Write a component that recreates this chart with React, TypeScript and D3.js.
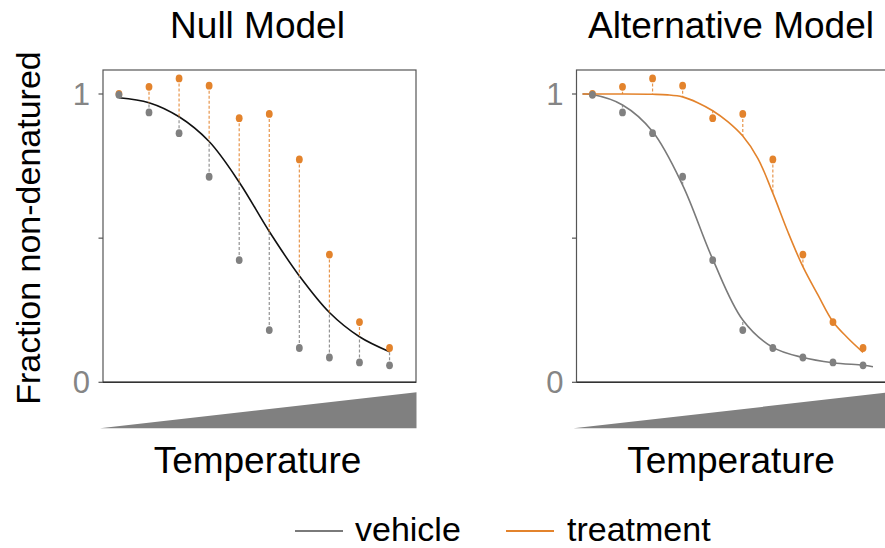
import React from "react";
import * as d3 from "d3";

// ---- data ----
const tempSteps = [1, 2, 3, 4, 5, 6, 7, 8, 9, 10];
const vehicle = [0.997, 0.936, 0.864, 0.713, 0.424, 0.181, 0.119, 0.086, 0.069, 0.059];
const treatment = [1.0, 1.025, 1.054, 1.029, 0.916, 0.931, 0.773, 0.443, 0.209, 0.119];

// fitted curves
const nullFitX = [1, 2, 3, 4, 5, 6, 7, 8, 9, 10];
const nullFitY = [0.987, 0.97, 0.921, 0.835, 0.694, 0.523, 0.369, 0.242, 0.158, 0.106];
const altVehX = [0.67, 1, 2, 3, 4, 5, 6, 7, 8, 9, 10, 10.33];
const altVehY = [1.0, 0.998, 0.962, 0.87, 0.684, 0.427, 0.216, 0.121, 0.086, 0.068, 0.059, 0.054];
const altTrtX = [0.67, 1, 2, 3, 3.5, 4, 4.5, 5, 5.5, 6, 6.5, 7, 7.5, 8, 8.5, 9, 9.5, 10];
const altTrtY = [1.0, 1.0, 1.0, 0.999, 0.997, 0.99, 0.97, 0.942, 0.904, 0.854, 0.777, 0.656, 0.522, 0.401, 0.303, 0.21, 0.153, 0.104];

const yTicks = [0, 0.5, 1];
const yTickLabels = ["0", "", "1"];
const panelTitles = ["Null Model", "Alternative Model"];
const legendLabels = ["vehicle", "treatment"];

const GRAY = "#808080";
const GRAY_LINE = "#7a7a7a";
const ORANGE = "#E3832C";
const FONT = "'Liberation Sans', Arial, Helvetica, sans-serif";

const W = 885;
const H = 548;
const panelLefts = [103, 576.5];
const panelW = 313;
const top = 70;
const bottom = 382.3;

function Panel({ left, title, mode }: { left: number; title: string; mode: "null" | "alt" }) {
  const x = d3.scaleLinear().domain([0.47, 10.88]).range([left, left + panelW]);
  const y = d3.scaleLinear().domain([0, 1]).range([bottom, 94]);
  const line = d3
    .line<[number, number]>()
    .x((d) => x(d[0]))
    .y((d) => y(d[1]))
    .curve(d3.curveCatmullRom.alpha(0.5));

  const fitAt = (xs: number[], ys: number[], t: number) => ys[xs.indexOf(t)];

  const vehCurveX = mode === "null" ? nullFitX : altVehX;
  const vehCurveY = mode === "null" ? nullFitY : altVehY;
  const trtCurveX = mode === "null" ? nullFitX : altTrtX;
  const trtCurveY = mode === "null" ? nullFitY : altTrtY;

  const cx = (left + left + panelW) / 2 - 2;
  const r0 = x.range()[0];
  const r1 = x.range()[1];

  return (
    <g>
      <text x={cx} y={38} textAnchor="middle" fontSize={37} fontFamily={FONT} fill="#000">
        {title}
      </text>
      {/* frame */}
      <rect x={r0} y={top} width={panelW} height={bottom - top} fill="none" stroke="#555" strokeWidth={1.2} />
      <line x1={r0} x2={r1} y1={bottom} y2={bottom} stroke="#333" strokeWidth={1.6} />
      {/* y ticks */}
      {yTicks.map((t, i) => (
        <g key={i}>
          <line x1={r0 - 4.5} x2={r0} y1={y(t)} y2={y(t)} stroke="#555" strokeWidth={1.2} />
          {yTickLabels[i] && (
            <text
              x={r0 - 13}
              y={y(t)}
              dy="0.36em"
              textAnchor="end"
              fontSize={31}
              fontFamily={FONT}
              fill="#858585"
            >
              {yTickLabels[i]}
            </text>
          )}
        </g>
      ))}
      {/* curves */}
      {mode === "null" ? (
        <path d={line(nullFitX.map((v, i) => [v, nullFitY[i]]) as any) || ""} fill="none" stroke="#111" strokeWidth={1.6} />
      ) : (
        <>
          <path d={line(altVehX.map((v, i) => [v, altVehY[i]]) as any) || ""} fill="none" stroke={GRAY_LINE} strokeWidth={1.6} />
          <path d={line(altTrtX.map((v, i) => [v, altTrtY[i]]) as any) || ""} fill="none" stroke={ORANGE} strokeWidth={1.6} />
        </>
      )}
      {/* residual dashes */}
      {tempSteps.map((t, i) => (
        <g key={"d" + i}>
          <line
            x1={x(t)}
            x2={x(t)}
            y1={y(treatment[i])}
            y2={y(fitAt(trtCurveX, trtCurveY, t))}
            stroke={ORANGE}
            strokeOpacity={0.85}
            strokeWidth={1.2}
            strokeDasharray="3,2"
          />
          <line
            x1={x(t)}
            x2={x(t)}
            y1={y(vehicle[i])}
            y2={y(fitAt(vehCurveX, vehCurveY, t))}
            stroke={GRAY}
            strokeOpacity={0.85}
            strokeWidth={1.2}
            strokeDasharray="3,2"
          />
        </g>
      ))}
      {/* points */}
      {tempSteps.map((t, i) => (
        <ellipse key={"t" + i} cx={x(t)} cy={y(treatment[i])} rx={3.4} ry={3.9} fill={ORANGE} />
      ))}
      {tempSteps.map((t, i) => (
        <ellipse key={"v" + i} cx={x(t)} cy={y(vehicle[i])} rx={3.4} ry={3.9} fill={GRAY} />
      ))}
      {/* temperature wedge */}
      <polygon
        points={`${r0 - 3},428.3 ${r1 + 0.5},428.3 ${r1 + 0.5},392.3`}
        fill="#808080"
      />
      <text x={cx} y={473} textAnchor="middle" fontSize={37} fontFamily={FONT} fill="#000">
        Temperature
      </text>
    </g>
  );
}

export default function App() {
  return (
    <svg
      width={W}
      height={H}
      style={{ position: "absolute", left: 0, top: 0, background: "#fff" }}
      xmlns="http://www.w3.org/2000/svg"
    >
      <rect x={0} y={0} width={W} height={H} fill="#fff" />
      <Panel left={panelLefts[0]} title={panelTitles[0]} mode="null" />
      <Panel left={panelLefts[1]} title={panelTitles[1]} mode="alt" />
      <text
        transform="translate(40,228) rotate(-90)"
        textAnchor="middle"
        fontSize={34}
        fontFamily={FONT}
        fill="#000"
      >
        Fraction non-denatured
      </text>
      {/* legend */}
      <line x1={295} x2={343} y1={531} y2={531} stroke={GRAY_LINE} strokeWidth={2} />
      <text x={355} y={541} fontSize={34} fontFamily={FONT} fill="#000">
        {legendLabels[0]}
      </text>
      <line x1={506} x2={554} y1={531} y2={531} stroke={ORANGE} strokeWidth={2} />
      <text x={567} y={541} fontSize={34} fontFamily={FONT} fill="#000">
        {legendLabels[1]}
      </text>
    </svg>
  );
}
